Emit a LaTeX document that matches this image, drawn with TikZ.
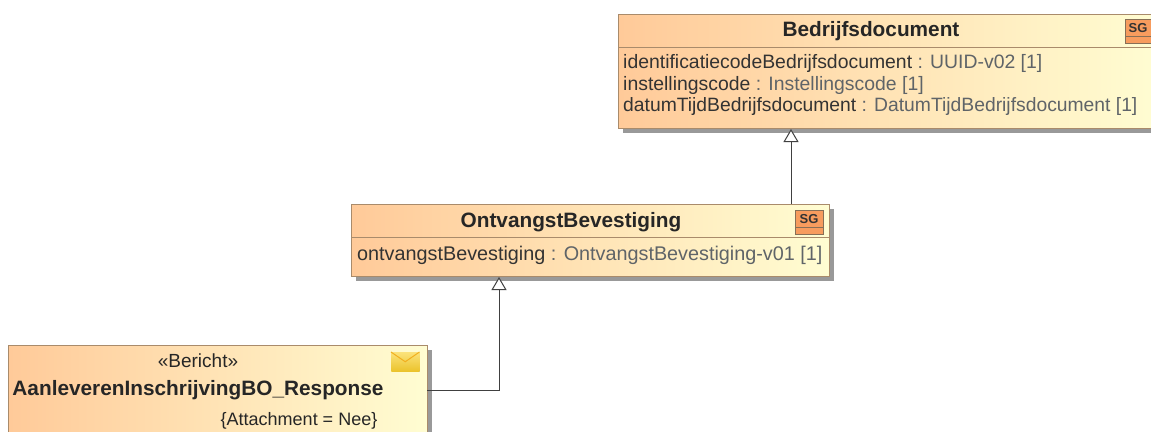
\documentclass[tikz,border=0pt]{standalone}
\usepackage{fontspec}
\setmainfont{Liberation Sans}
\usetikzlibrary{arrows.meta, positioning, shadows}
\definecolor{boxleft}{HTML}{FFCA99}
\definecolor{boxright}{HTML}{FFFDD2}
\definecolor{boxedge}{HTML}{A98B6B}
\definecolor{sgfill}{HTML}{F79C5E}
\definecolor{mailtop}{HTML}{FBE27A}
\definecolor{mailbottom}{HTML}{EBC32C}
\definecolor{typegray}{HTML}{5F6468}
\tikzset{
  classbox/.style={draw=boxedge, line width=1pt, left color=boxleft, right color=boxright, shading angle=90,
    anchor=north west, inner sep=0pt, drop shadow={shadow xshift=4pt, shadow yshift=-4pt, fill=black, opacity=0.4}},
  classname/.style={font=\fontsize{20.8}{21}\selectfont\bfseries, text=black!85, inner sep=0pt},
  attrline/.style={font=\fontsize{19.4}{20}\selectfont, text=black!80, anchor=west, inner sep=0pt},
  stereo/.style={font=\fontsize{19}{20}\selectfont, text=black!85, inner sep=0pt},
  sgicon/.style={draw=boxedge!80!black, line width=1pt, fill=sgfill, minimum width=28pt, minimum height=24pt,
    inner sep=0pt, anchor=north west},
  sgtext/.style={font=\fontsize{13}{13}\selectfont\bfseries, text=black!80, inner sep=0pt},
  generalize/.style={draw=black!75, line width=1pt, -{Triangle[open, fill=white, length=13pt, width=15pt]}},
  divider/.style={draw=boxedge, line width=1pt},
}
\begin{document}
\begin{tikzpicture}[x=1pt, y=-1pt]
\useasboundingbox (0,0) rectangle (1151,431);
\clip (0,0) rectangle (1151,431);
\fill[white] (0,0) rectangle (1151,431);

% Class boxes
\node[classbox, minimum width=540pt, minimum height=114pt] (bedrijf) at (618,14) {};
\node[classbox, minimum width=478pt, minimum height=72pt] (ontvangst) at (351,204) {};
\node[classbox, minimum width=419pt, minimum height=120pt] (bericht) at (8,345) {};

% Compartments
\draw[divider] (bedrijf.west |- 0,47) -- (bedrijf.east |- 0,47);
\draw[divider] (ontvangst.west |- 0,237) -- (ontvangst.east |- 0,237);

% Bedrijfsdocument
\node[classname] (bedrijfname) at (871,31) {Bedrijfsdocument};
\node[attrline] (attrid) at (623,63) {identificatiecodeBedrijfsdocument \textcolor{typegray}{: UUID-v02 [1]}};
\node[attrline] (attrinst) at (623,85) {instellingscode \textcolor{typegray}{: Instellingscode [1]}};
\node[attrline, font=\fontsize{19.3}{20}\selectfont] (attrdatum) at (623,107) {datumTijdBedrijfsdocument \textcolor{typegray}{: DatumTijdBedrijfsdocument [1]}};
\node[sgicon] (sgbedrijf) at (1125,19) {};
\draw[boxedge!80!black, line width=1pt] (sgbedrijf.west |- 0,36) -- (sgbedrijf.east |- 0,36);
\node[sgtext] (sgbedrijftext) at (1138,28) {SG};

% OntvangstBevestiging
\node[classname] (ontvangstname) at (571,222) {OntvangstBevestiging};
\node[attrline, font=\fontsize{19.8}{20}\selectfont] (attrontvangst) at (357,255) {ontvangstBevestiging \textcolor{typegray}{: OntvangstBevestiging-v01 [1]}};
\node[sgicon] (sgontvangst) at (795,210) {};
\draw[boxedge!80!black, line width=1pt] (sgontvangst.west |- 0,227) -- (sgontvangst.east |- 0,227);
\node[sgtext] (sgontvangsttext) at (809,219) {SG};

% Bericht
\node[stereo] (berichtstereo) at (198,361) {«Bericht»};
\node[classname] (berichtname) at (198,390) {AanleverenInschrijvingBO\_Response};
\node[stereo, font=\fontsize{18}{18}\selectfont] (berichttag) at (299,421) {\{Attachment = Nee\}};
\node[top color=mailtop, bottom color=mailbottom, line width=0.5pt, minimum width=28pt, minimum height=19pt, inner sep=0pt, anchor=north west,
  drop shadow={shadow xshift=1pt, shadow yshift=-1pt, fill=black, opacity=0.2}] (mail) at (391,352) {};
\draw[mailbottom!70!orange, line width=1pt] (mail.north west) -- (mail.center) -- (mail.north east);

% Generalizations
\coordinate (bedrijfport) at (791,128);
\coordinate (ontvangstport) at (499,276);
\coordinate (berichtport) at (427,390);
\draw[generalize] (ontvangst.north -| bedrijfport) -- (bedrijf.south -| bedrijfport);
\draw[generalize] (berichtport) -| (ontvangst.south -| ontvangstport);
\end{tikzpicture}
\end{document}
